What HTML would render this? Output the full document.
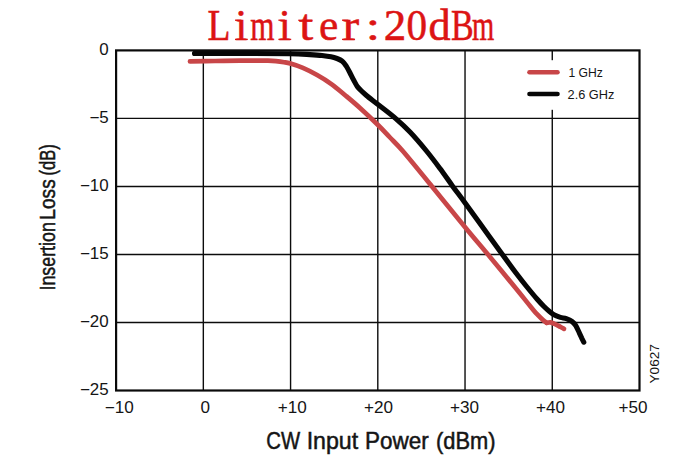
<!DOCTYPE html>
<html><head><meta charset="utf-8"><title>Limiter:20dBm</title>
<style>html,body{margin:0;padding:0;background:#fff;}body{width:700px;height:466px;overflow:hidden;}svg{display:block;position:absolute;left:0;top:0;}text{font-family:"Liberation Sans",sans-serif;fill:#151515;}.t{font-family:"Liberation Serif",serif;fill:#dc1414;stroke:#dc1414;stroke-width:0.55px;}</style>
</head><body>
<svg width="700" height="466" viewBox="0 0 700 466">
<rect x="0" y="0" width="700" height="466" fill="#ffffff"/>
<g stroke="#0c0c0c" stroke-width="1.40" fill="none"><line x1="203.33" y1="50.40" x2="203.33" y2="390.50"/><line x1="290.57" y1="50.40" x2="290.57" y2="390.50"/><line x1="377.80" y1="50.40" x2="377.80" y2="390.50"/><line x1="465.03" y1="50.40" x2="465.03" y2="390.50"/><line x1="552.27" y1="50.40" x2="552.27" y2="390.50"/><line x1="116.10" y1="118.42" x2="639.50" y2="118.42"/><line x1="116.10" y1="186.44" x2="639.50" y2="186.44"/><line x1="116.10" y1="254.46" x2="639.50" y2="254.46"/><line x1="116.10" y1="322.48" x2="639.50" y2="322.48"/></g>
<rect x="520" y="60.2" width="110" height="49.6" fill="#ffffff"/>
<g fill="none" stroke-linecap="round" stroke-linejoin="round">
<path d="M190.0 61.4 C194.2 61.3 206.7 61.1 215.0 61.0 C223.3 60.9 233.3 60.8 240.0 60.7 C246.7 60.6 250.3 60.6 255.0 60.6 C259.7 60.6 264.5 60.6 268.0 60.7 C271.5 60.8 273.3 60.9 276.0 61.1 C278.7 61.4 281.6 61.8 284.0 62.2 C286.4 62.6 287.2 62.6 290.4 63.6 C293.5 64.5 298.4 66.0 302.9 67.9 C307.3 69.8 312.4 72.3 317.1 75.0 C321.9 77.7 326.6 80.6 331.4 84.1 C336.2 87.5 340.9 91.7 345.7 95.7 C350.5 99.7 354.6 103.1 360.0 108.0 C365.4 112.9 373.0 120.1 378.0 125.0 C383.0 129.9 385.8 133.1 390.0 137.5 C394.2 141.9 396.0 143.1 403.0 151.3 C410.0 159.5 421.8 174.0 432.0 186.5 C442.2 199.0 455.2 215.2 464.5 226.5 C473.8 237.8 479.4 244.3 488.0 254.6 C496.6 264.9 508.9 279.8 516.0 288.5 C523.1 297.2 527.4 302.8 530.9 307.0 C534.4 311.2 534.8 311.8 536.8 313.9 C538.8 316.0 541.1 318.3 542.7 319.8 C544.3 321.3 546.0 322.3 546.6 322.8" stroke="#c84648" stroke-width="4.7"/>
<path d="M546.6 322.9 C547.2 322.8 549.1 322.2 550.4 322.4 C551.7 322.6 552.8 323.1 554.5 323.9 C556.2 324.6 558.8 326.1 560.4 326.9 C562.0 327.7 563.4 328.6 564.0 328.9" stroke="#c84648" stroke-width="4.7"/>
<path d="M194.5 53.4 C203.8 53.4 234.1 53.3 250.0 53.4 C265.9 53.5 280.0 53.5 290.0 53.7 C300.0 53.9 304.7 54.3 310.0 54.6 C315.3 54.9 318.5 55.1 322.0 55.5 C325.5 55.9 328.5 56.3 331.0 56.8 C333.5 57.3 335.1 57.8 337.0 58.5 C338.9 59.2 340.8 60.0 342.3 61.3 C343.8 62.5 344.9 64.1 346.2 66.0 C347.4 67.9 348.6 70.2 349.8 72.5 C351.0 74.8 352.2 77.5 353.5 79.8 C354.8 82.1 356.0 84.6 357.3 86.5 C358.6 88.4 360.0 89.5 361.5 91.0 C363.0 92.5 363.8 93.2 366.5 95.5 C369.2 97.8 373.2 100.7 378.0 104.5 C382.8 108.3 390.2 113.8 395.5 118.4 C400.8 123.0 404.8 126.6 410.0 132.0 C415.2 137.4 421.5 144.9 426.5 151.0 C431.5 157.1 435.6 162.6 440.0 168.5 C444.4 174.4 448.7 180.8 452.8 186.4 C456.9 192.0 459.9 195.8 464.4 202.0 C468.9 208.2 473.7 214.8 480.0 223.5 C486.3 232.2 496.4 246.2 502.4 254.4 C508.4 262.6 511.9 267.6 516.0 273.0 C520.1 278.4 523.5 282.7 527.0 287.0 C530.5 291.3 534.2 295.8 537.0 299.0 C539.8 302.2 541.9 304.4 544.0 306.5 C546.1 308.6 547.8 310.1 549.5 311.5 C551.2 312.9 552.7 314.1 554.5 315.1 C556.3 316.1 558.4 316.8 560.4 317.4 C562.4 318.0 564.3 317.9 566.3 318.6 C568.3 319.3 570.6 320.4 572.2 321.6 C573.8 322.8 574.6 323.8 575.8 325.7 C577.0 327.6 578.3 330.7 579.3 332.8 C580.3 334.9 581.0 336.5 581.7 338.1 C582.5 339.7 583.4 341.5 583.8 342.2" stroke="#060606" stroke-width="5.1"/>
<line x1="529.5" y1="72.3" x2="557.5" y2="72.3" stroke="#c84648" stroke-width="4.6"/>
<line x1="529.5" y1="94" x2="557.5" y2="94" stroke="#060606" stroke-width="4.6"/>
</g>
<rect x="116.10" y="50.40" width="523.40" height="340.10" fill="none" stroke="#0a0a0a" stroke-width="2.20"/>
<text transform="translate(108.7 54.9) scale(1.06 1)" font-size="16" text-anchor="end">0</text>
<text transform="translate(108.7 122.9) scale(1.06 1)" font-size="16" text-anchor="end">−5</text>
<text transform="translate(108.7 190.9) scale(1.06 1)" font-size="16" text-anchor="end">−10</text>
<text transform="translate(108.7 259.0) scale(1.06 1)" font-size="16" text-anchor="end">−15</text>
<text transform="translate(108.7 327.0) scale(1.06 1)" font-size="16" text-anchor="end">−20</text>
<text transform="translate(108.7 395.0) scale(1.06 1)" font-size="16" text-anchor="end">−25</text>
<text transform="translate(119.2 412.7) scale(1.07 1)" font-size="16" text-anchor="middle">−10</text>
<text transform="translate(205.3 412.7) scale(1.07 1)" font-size="16" text-anchor="middle">0</text>
<text transform="translate(292.3 412.7) scale(1.07 1)" font-size="16" text-anchor="middle">+10</text>
<text transform="translate(378.6 412.7) scale(1.07 1)" font-size="16" text-anchor="middle">+20</text>
<text transform="translate(464.4 412.7) scale(1.07 1)" font-size="16" text-anchor="middle">+30</text>
<text transform="translate(550.6 412.7) scale(1.07 1)" font-size="16" text-anchor="middle">+40</text>
<text transform="translate(633.0 412.7) scale(1.07 1)" font-size="16" text-anchor="middle">+50</text>
<text transform="translate(568.4 77.3) scale(0.9 1)" font-size="13.5">1 GHz</text>
<text transform="translate(567.6 99.2) scale(0.945 1)" font-size="13.5">2.6 GHz</text>
<text transform="translate(659.4 383.5) rotate(-90) scale(1.05 1)" font-size="13">Y0627</text>
<text transform="translate(266.27 449) scale(0.856 1)" font-size="23.7" stroke="#151515" stroke-width="0.5">CW</text>
<text transform="translate(306.65 449) scale(0.978 1)" font-size="23.7" stroke="#151515" stroke-width="0.5">Input</text>
<text transform="translate(364.90 449) scale(0.949 1)" font-size="23.7" stroke="#151515" stroke-width="0.5">Power</text>
<text transform="translate(436.01 449) scale(0.924 1)" font-size="23.7" stroke="#151515" stroke-width="0.5">(dBm)</text>
<text transform="translate(54.7 290.48) rotate(-90) scale(0.799 1)" font-size="22.3" stroke="#151515" stroke-width="0.5">Insertion</text>
<text transform="translate(54.7 219.64) rotate(-90) scale(0.856 1)" font-size="22.3" stroke="#151515" stroke-width="0.5">Loss</text>
<text transform="translate(54.7 175.54) rotate(-90) scale(0.740 1)" font-size="22.3" stroke="#151515" stroke-width="0.5">(dB)</text>
<text class="t" transform="translate(207.58 40.0) scale(0.863 1.005)" font-size="43.5">L</text>
<text class="t" transform="translate(235.35 40.0) scale(1.000 1.005)" font-size="43.5">i</text>
<text class="t" transform="translate(250.16 40.0) scale(0.715 1.005)" font-size="43.5">m</text>
<text class="t" transform="translate(278.75 40.0) scale(1.000 1.005)" font-size="43.5">i</text>
<text class="t" transform="translate(299.18 40.0) scale(1.150 1.005)" font-size="43.5">t</text>
<text class="t" transform="translate(319.10 40.0) scale(1.000 1.005)" font-size="43.5">e</text>
<text class="t" transform="translate(342.53 40.0) scale(1.150 1.005)" font-size="43.5">r</text>
<text class="t" transform="translate(365.65 40.0) scale(1.192 0.930)" font-size="43.5">:</text>
<text class="t" transform="translate(383.83 40.0) scale(1.034 1.005)" font-size="43.5">2</text>
<text class="t" transform="translate(406.59 40.0) scale(0.946 1.005)" font-size="43.5">0</text>
<text class="t" transform="translate(428.48 40.0) scale(1.015 1.005)" font-size="43.5">d</text>
<text class="t" transform="translate(450.88 40.0) scale(0.781 1.005)" font-size="43.5">B</text>
<text class="t" transform="translate(471.91 40.0) scale(0.656 1.005)" font-size="43.5">m</text>
<rect x="235.00" y="38.75" width="12.80" height="1.30" fill="#dc1414"/>
<rect x="235.00" y="19.55" width="6.40" height="1.30" fill="#dc1414"/>
<rect x="278.40" y="38.75" width="12.80" height="1.30" fill="#dc1414"/>
<rect x="278.40" y="19.55" width="6.40" height="1.30" fill="#dc1414"/>
<rect x="298.30" y="19.60" width="14.10" height="1.40" fill="#dc1414"/>
<rect x="342.00" y="38.75" width="13.00" height="1.30" fill="#dc1414"/>
<rect x="342.00" y="19.55" width="6.45" height="1.30" fill="#dc1414"/>
</svg></body></html>
